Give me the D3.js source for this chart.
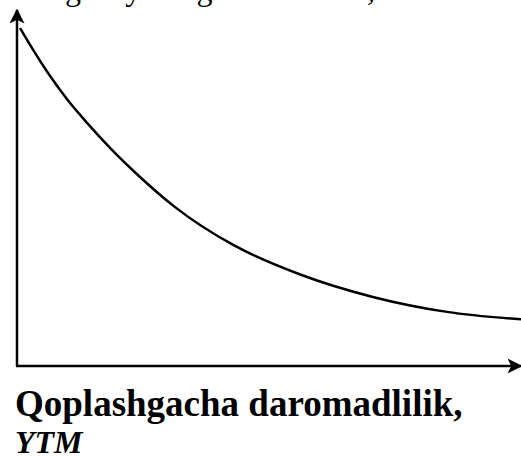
<!DOCTYPE html>
<html>
<head>
<meta charset="utf-8">
<script src="https://cdn.jsdelivr.net/npm/d3@7"></script>
<style>
  body { margin: 0; background: #fff; }
  svg { display: block; }
</style>
</head>
<body>
<script>
// Curve readings (x: share of horizontal axis, y: share of vertical axis)
var curveX = [0.6, 3.2, 6.5, 9.9, 13.9, 18.5, 24.4, 31.3, 42.9, 56.2, 70.6, 85.3, 100];
var curveY = [94.9, 88.8, 81.6, 75.0, 68.3, 61.2, 53.1, 44.7, 34.0, 25.7, 19.4, 15.2, 13.1];

var topLabel = "Obligatsiyaning bozor narxi, P";
var xLabelLines = ["Qoplashgacha daromadlilik,", "YTM"];

var width = 521, height = 457;
var margin = {top: 10, right: 0, bottom: 91, left: 17};

const svg = d3.select("body")
    .append("svg")
    .attr("width", width)
    .attr("height", height);

// arrow head
svg.append("defs").append("marker")
    .attr("id", "arrow")
    .attr("viewBox", "0 0 10 10")
    .attr("refX", 9).attr("refY", 5)
    .attr("markerWidth", 6).attr("markerHeight", 6)
    .attr("markerUnits", "strokeWidth")
    .attr("orient", "auto")
  .append("path")
    .attr("d", "M0,0 L10,5 L0,10 L2.5,5 Z")
    .attr("fill", "#000");

var x = d3.scaleLinear()
    .domain([0, 100])
    .range([margin.left, width - margin.right]);

var y = d3.scaleLinear()
    .domain([0, 100])
    .range([height - margin.bottom, margin.top]);

// axes
svg.append("line")
    .attr("x1", x(0)).attr("y1", y(0))
    .attr("x2", x(0)).attr("y2", y(100))
    .attr("stroke", "#000").attr("stroke-width", 2.5)
    .attr("marker-end", "url(#arrow)");

svg.append("line")
    .attr("x1", x(0) - 1).attr("y1", y(0))
    .attr("x2", x(100)).attr("y2", y(0))
    .attr("stroke", "#000").attr("stroke-width", 2.5)
    .attr("marker-end", "url(#arrow)");

// curve
var data = curveX.map((d, i) => ({x: d, y: curveY[i]}));
var line = d3.line()
    .x(d => x(d.x))
    .y(d => y(d.y))
    .curve(d3.curveMonotoneX);

svg.append("path")
    .datum(data)
    .attr("fill", "none")
    .attr("stroke", "#000")
    .attr("stroke-width", 2.5)
    .attr("d", line);

// cut-off text at the top, only its lowest part is visible
svg.append("text")
    .attr("x", 8).attr("y", 0)
    .attr("font-family", "Liberation Serif, Times New Roman, serif")
    .attr("font-size", 32)
    .text(topLabel);

// x label
var lbl = svg.append("text")
    .attr("font-family", "Liberation Serif, Times New Roman, serif")
    .attr("font-weight", "bold");
lbl.append("tspan").attr("x", 15).attr("y", 416)
    .attr("font-size", 37).text(xLabelLines[0]);
lbl.append("tspan").attr("x", 15).attr("y", 453)
    .attr("font-size", 32).attr("font-style", "italic").text(xLabelLines[1]);
</script>
</body>
</html>
